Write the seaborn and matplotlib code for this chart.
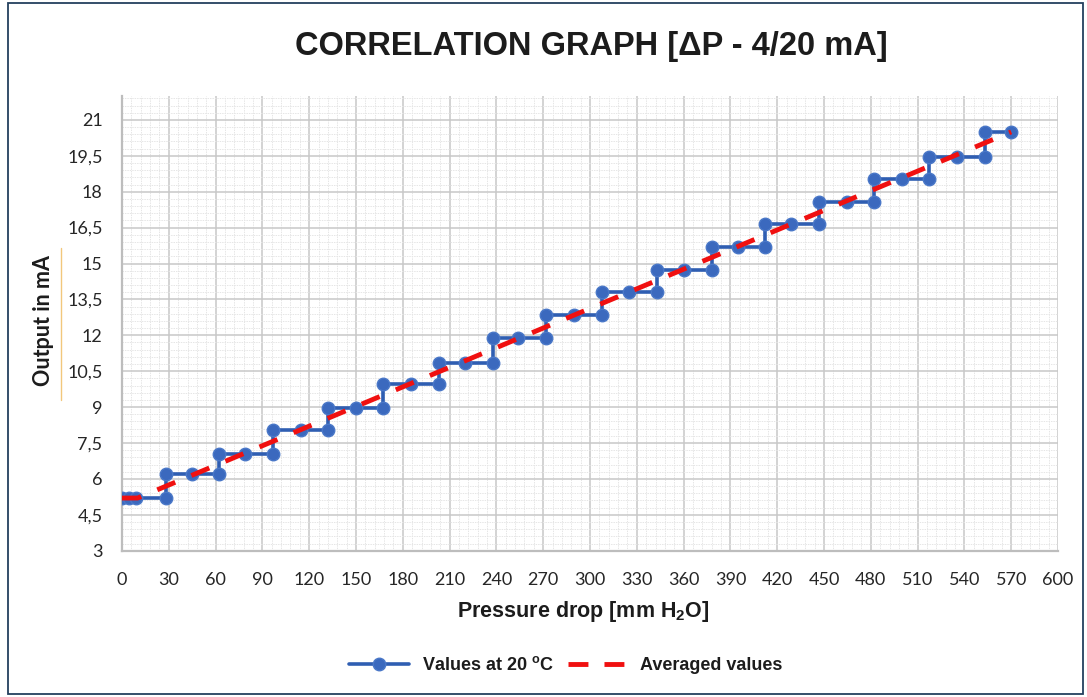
import matplotlib
matplotlib.use("Agg")
import matplotlib.pyplot as plt
from matplotlib.ticker import MultipleLocator, FixedLocator, FixedFormatter
from matplotlib.lines import Line2D
from matplotlib.patches import Rectangle
import seaborn as sns
import pandas as pd

# Transmitter output measured at 20 °C (stepwise response)
pressure_20c = [0, 4.5, 9, 28, 28, 45, 62, 62, 79, 97, 97, 115, 132, 132, 150,
                167, 167, 185, 203, 203, 220, 238, 238, 254, 272, 272, 290,
                308, 308, 325, 343, 343, 360, 378, 378, 395, 412, 412, 429,
                447, 447, 465, 482, 482, 500, 517, 517, 535, 553, 553, 570]
output_20c = [5.2, 5.2, 5.2, 5.2, 6.2, 6.2, 6.2, 7.05, 7.05, 7.05, 8.05, 8.05,
              8.05, 8.95, 8.95, 8.95, 9.95, 9.95, 9.95, 10.85, 10.85, 10.85,
              11.9, 11.9, 11.9, 12.85, 12.85, 12.85, 13.8, 13.8, 13.8, 14.75,
              14.75, 14.75, 15.7, 15.7, 15.7, 16.65, 16.65, 16.65, 17.55,
              17.55, 17.55, 18.55, 18.55, 18.55, 19.45, 19.45, 19.45, 20.5,
              20.5]

# Averaged characteristic
avg_pressure = [0, 10, 570]
avg_output = [5.2, 5.2, 20.5]

x_ticks = list(range(0, 601, 30))
x_tick_labels = [str(v) for v in x_ticks]
y_ticks = [3, 4.5, 6, 7.5, 9, 10.5, 12, 13.5, 15, 16.5, 18, 19.5, 21]
y_tick_labels = ["3", "4,5", "6", "7,5", "9", "10,5", "12", "13,5", "15",
                 "16,5", "18", "19,5", "21"]

title_text = "CORRELATION GRAPH [\u0394P - 4/20 mA]"
x_label_text = "Pressure drop [mm H$_2$O]"
y_label_text = "Output in mA"
series_labels = ["Values at 20 $^{\\mathbf{o}}$C", "Averaged values"]

BLUE = "#2f5eb2"
BLUE_MARK = "#3b69be"
BLUE_EDGE = "#4a78c8"
RED = "#f01010"

sns.set_theme(style="white")
plt.rcParams["font.family"] = ["Liberation Sans", "DejaVu Sans"]
plt.rcParams["mathtext.fontset"] = "custom"
plt.rcParams["mathtext.rm"] = "Liberation Sans"
plt.rcParams["mathtext.bf"] = "Liberation Sans:bold"
plt.rcParams["mathtext.default"] = "bf"

W, H = 1087, 697
fig = plt.figure(figsize=(W / 100, H / 100), dpi=100)
fig.patch.set_facecolor("white")

left, right, top, bottom = 122, 1058, 96, 550.7
ax = fig.add_axes([left / W, 1 - bottom / H, (right - left) / W, (bottom - top) / H])

meas = pd.DataFrame({"pressure": pressure_20c, "output": output_20c})
avg = pd.DataFrame({"pressure": avg_pressure, "output": avg_output})

sns.lineplot(data=meas, x="pressure", y="output", estimator=None, sort=False,
             color=BLUE, linewidth=2.6, marker="o", markersize=9,
             markerfacecolor=BLUE_MARK, markeredgecolor=BLUE_EDGE,
             markeredgewidth=1.0, legend=False, ax=ax, zorder=3)
sns.lineplot(data=avg, x="pressure", y="output", estimator=None, sort=False,
             color=RED, linewidth=3.5, legend=False, ax=ax, zorder=4)
avg_line = ax.lines[-1]
avg_line.set_dashes((4.0, 3.6))
avg_line.set_dash_capstyle("butt")

ax.set_xlim(0, 600)
ax.set_ylim(3, 22)
ax.xaxis.set_major_locator(FixedLocator(x_ticks))
ax.xaxis.set_major_formatter(FixedFormatter(x_tick_labels))
ax.yaxis.set_major_locator(FixedLocator(y_ticks))
ax.yaxis.set_major_formatter(FixedFormatter(y_tick_labels))
ax.xaxis.set_minor_locator(MultipleLocator(6))
ax.yaxis.set_minor_locator(MultipleLocator(0.3))

ax.set_axisbelow(True)
ax.grid(which="major", color="#c8c8c8", linewidth=1.1)
ax.grid(which="minor", color="#e6e6e6", linewidth=0.7, linestyle=(0, (1.5, 1.0)))
for side in ["top", "right"]:
    ax.spines[side].set_visible(False)
for side in ["left", "bottom"]:
    ax.spines[side].set_color("#bdbdbd")
    ax.spines[side].set_linewidth(1.6)

ax.tick_params(axis="both", which="both", length=0)
ax.tick_params(axis="y", pad=14)
ax.tick_params(axis="x", pad=15.5)
for lbl in ax.get_xticklabels() + ax.get_yticklabels():
    lbl.set_fontfamily(["Lato", "DejaVu Sans"])
    lbl.set_fontsize(13)
    lbl.set_color("#262626")
ax.set_xlabel("")
ax.set_ylabel("")

fig.text(591 / W, 1 - 46 / H, title_text, ha="center", va="center",
         fontsize=23.5, fontweight="bold", color="#1c1c1c")
fig.text(583 / W, 1 - 612 / H, x_label_text, ha="center", va="center",
         fontsize=15.5, fontweight="bold", color="#1c1c1c")
fig.text(43 / W, 1 - 321 / H, y_label_text, ha="center", va="center",
         rotation=90, fontsize=15.5, fontweight="bold",
         family=["Lato", "DejaVu Sans"], color="#1c1c1c")

handles = [
    Line2D([], [], color=BLUE, linewidth=2.6, marker="o", markersize=9,
           markerfacecolor=BLUE_MARK, markeredgecolor=BLUE_EDGE),
    Line2D([], [], color=RED, linewidth=3.5, dashes=(4.1, 3.3),
           dash_capstyle="butt"),
]
leg = fig.legend(handles, series_labels, loc="center",
                 bbox_to_anchor=(566 / W, 1 - 665 / H), ncol=2, frameon=False,
                 prop={"weight": "bold", "size": 13}, handlelength=3.3,
                 handletextpad=0.7, columnspacing=0.8)
for t in leg.get_texts():
    t.set_color("#1c1c1c")

# thin accent line beside the y label and the outer frame
fig.add_artist(Line2D([61 / W, 61 / W], [1 - 248 / H, 1 - 400 / H],
                      color="#f2c77c", linewidth=1.0))
fig.add_artist(Rectangle((7.5 / W, 3 / H), (1083 - 7.5) / W, (694 - 3) / H,
                         fill=False, edgecolor="#24405e", linewidth=1.3))

fig.savefig("out.png", dpi=100)
